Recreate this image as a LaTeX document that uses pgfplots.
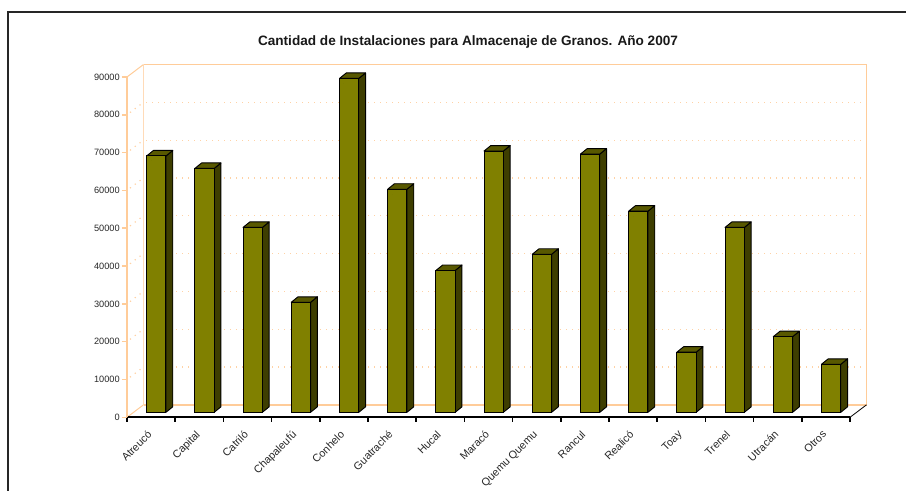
\documentclass[border=0pt]{standalone}
\usepackage{pgfplots}
\pgfplotsset{compat=1.18}
\usepackage{fontspec}
\setmainfont{Liberation Sans}
\definecolor{peach}{RGB}{255,204,153}
\definecolor{gridpeach}{RGB}{255,210,165}
\definecolor{olivefront}{RGB}{128,128,0}
\definecolor{olivetop}{RGB}{88,88,0}
\definecolor{oliveside}{RGB}{62,62,0}
\definecolor{labelgray}{RGB}{40,40,40}
\begin{document}
\begin{tikzpicture}
\begin{scope}[x=0.75pt,y=-0.75pt]
\path[use as bounding box] (0,0) rectangle (906,487);
% outer frame
\draw[line width=1pt, black!85] (8,520) -- (8,12) -- (930,12);
% back wall, floor and left wall
\foreach \v in {1,...,8}{
  \pgfmathsetmacro\yb{404.8-\v*37.81}
  \pgfmathsetmacro\yf{417.3-\v*37.81}
  \draw[gridpeach, line width=0.9pt, dash pattern=on 0.9pt off 3.6pt] (146,\yb) -- (866.5,\yb);
  \draw[gridpeach, line width=0.9pt, dash pattern=on 0.9pt off 3.6pt] (130,\yf-2.3) -- (143.5,\yb);
}
\draw[peach!70, line width=0.6pt] (143.5,404.8) -- (143.5,64.5);
\draw[peach, line width=0.75pt] (143.5,64.5) -- (866.5,64.5) -- (866.5,404.8);
\draw[peach, line width=1.2pt] (143.5,404.8) -- (866.5,404.8);
\draw[peach, line width=0.75pt] (127,77) -- (143.5,64.5);
\draw[peach, line width=0.75pt] (127,417.3) -- (143.5,404.8);
\draw[black, line width=0.6pt] (850,417.3) -- (866.5,404.8);
% title
\node[font=\bfseries\fontsize{10.2pt}{12pt}\selectfont, text=black!90] at (468,42) {Cantidad de Instalaciones para Almacenaje de Granos. Año 2007};
\end{scope}
\begin{axis}[
  at={(95.25pt,-312.975pt)}, anchor=south west,
  width=542.25pt, height=255.225pt, scale only axis,
  xmin=-0.5, xmax=14.5, ymin=0, ymax=90000,
  clip=false,
  axis x line*=bottom, axis y line*=left,
  x axis line style={draw=black, line width=1.3pt, -},
  y axis line style={draw=peach, line width=1.5pt, -},
  tick align=outside,
  ytick={0,10000,...,90000},
  major y tick style={draw=peach, line width=1.2pt},
  major tick length=3.8pt,
  scaled y ticks=false,
  /pgf/number format/.cd, fixed, 1000 sep={}, assume math mode=true, /pgfplots/.cd,
  yticklabel style={font=\fontsize{6.9pt}{8pt}\selectfont, text=labelgray, inner sep=1.5pt},
  xtick={0,...,14},
  xticklabels={Atreucó,Capital,Catriló,Chapaleufú,Conhelo,Guatraché,Hucal,Maracó,Quemu Quemu,Rancul,Realicó,Toay,Trenel,Utracán,Otros},
  major x tick style={draw=none},
  minor xtick={-0.5,0.5,...,14.5},
  minor x tick style={draw=black, line width=1.2pt},
  minor tick length=3.4pt,
  xticklabel style={font=\fontsize{8.1pt}{9pt}\selectfont, text=labelgray, rotate=45, anchor=north east, inner sep=1pt, xshift=-5pt, yshift=-0.5pt},
]
\addplot[scatter, only marks, mark=*, mark size=0pt, mark options={draw=none,fill=none},
  visualization depends on={\thisrow{k} \as \kval},
  scatter/@pre marker code/.code={%
    \pgfmathsetmacro\hb{3.75-\kval*2.8358}%
    \pgfmathsetmacro\hs{\hb+4.125}%
    \filldraw[fill=oliveside, draw=black, line width=0.7pt, line join=round] (11.14pt,\hb pt) -- (16.24pt,\hs pt) -- (16.24pt,7.875pt) -- (11.14pt,3.75pt) -- cycle;
    \filldraw[fill=olivetop, draw=black, line width=0.7pt, line join=round] (-3.34pt,3.75pt) -- (11.14pt,3.75pt) -- (16.24pt,7.875pt) -- (1.76pt,7.875pt) -- cycle;
    \filldraw[fill=olivefront, draw=black, line width=0.7pt] (-3.34pt,\hb pt) rectangle (11.14pt,3.75pt);
  },
  scatter/@post marker code/.code={},
] table[x=idx, y=value] {
idx value k
0 67800 67.8
1 64500 64.5
2 48900 48.9
3 29100 29.1
4 88300 88.3
5 59000 59.0
6 37500 37.5
7 69100 69.1
8 41800 41.8
9 68300 68.3
10 53200 53.2
11 15900 15.9
12 48900 48.9
13 20000 20.0
14 12700 12.7
};
\end{axis}
\end{tikzpicture}
\end{document}
